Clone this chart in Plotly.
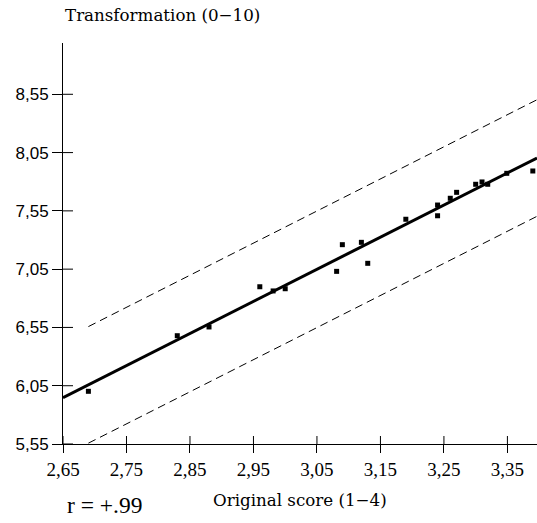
import plotly.graph_objects as go

# Original scores (1-4 scale) and their transformed values (0-10 scale)
orig_score = [2.690, 2.830, 2.880, 2.960, 2.981, 3.000, 3.081, 3.090, 3.120, 3.130,
              3.190, 3.240, 3.240, 3.260, 3.270, 3.300, 3.310, 3.319, 3.349, 3.390]
transformed = [6.002, 6.479, 6.554, 6.899, 6.863, 6.882, 7.031, 7.260, 7.280, 7.100,
               7.478, 7.600, 7.508, 7.658, 7.709, 7.778, 7.798, 7.778, 7.872, 7.892]

# Regression line and the +/- band around it
fit_intercept = -1.351
fit_slope = 2.754
band_half_width = 0.5

x_ticks = [2.65, 2.75, 2.85, 2.95, 3.05, 3.15, 3.25, 3.35]
x_ticklabels = ["2,65", "2,75", "2,85", "2,95", "3,05", "3,15", "3,25", "3,35"]
y_ticks = [5.55, 6.05, 6.55, 7.05, 7.55, 8.05, 8.55]
y_ticklabels = ["5,55", "6,05", "6,55", "7,05", "7,55", "8,05", "8,55"]

x_range = [2.65, 3.3966]
y_range = [5.55, 8.99]


def fit(x):
    return fit_intercept + fit_slope * x


fig = go.Figure()

# Dashed band lines
band_x = [min(orig_score), x_range[1]]
for sign in (1, -1):
    fig.add_trace(go.Scatter(
        x=band_x, y=[fit(v) + sign * band_half_width for v in band_x],
        mode="lines", line=dict(color="black", width=1, dash="8px,5px"),
        hoverinfo="skip", showlegend=False))

# Regression line
fig.add_trace(go.Scatter(
    x=x_range, y=[fit(v) for v in x_range],
    mode="lines", line=dict(color="black", width=3),
    hoverinfo="skip", showlegend=False))

# Observations
fig.add_trace(go.Scatter(
    x=orig_score, y=transformed, mode="markers",
    marker=dict(symbol="square", size=5, color="black", line=dict(width=0)),
    showlegend=False))

# Inner halves of the tick marks so that ticks cross the axes
shapes = []
for v in y_ticks:
    shapes.append(dict(type="line", xref="x", yref="y", xsizemode="pixel",
                       xanchor=x_range[0], x0=0, x1=10, y0=v, y1=v,
                       line=dict(color="black", width=1)))
for v in x_ticks:
    shapes.append(dict(type="line", xref="x", yref="y", ysizemode="pixel",
                       yanchor=y_range[0], y0=0, y1=8, x0=v, x1=v,
                       line=dict(color="black", width=1)))

title_font = dict(family="DejaVu Serif", size=16.7, color="black")

fig.update_layout(
    width=537, height=523,
    margin=dict(l=63, r=0, t=43, b=79),
    paper_bgcolor="white", plot_bgcolor="white",
    shapes=shapes,
    xaxis=dict(range=x_range, showgrid=False, zeroline=False,
               showline=True, linecolor="black", linewidth=1,
               ticks="outside", ticklen=8, tickwidth=1, tickcolor="black",
               tickvals=x_ticks, ticktext=x_ticklabels,
               tickfont=dict(family="Liberation Serif", size=19, color="black")),
    yaxis=dict(range=y_range, showgrid=False, zeroline=False,
               showline=True, linecolor="black", linewidth=1,
               ticks="outside", ticklen=10, tickwidth=1, tickcolor="black",
               tickvals=y_ticks, ticktext=y_ticklabels,
               tickfont=dict(family="Liberation Sans", size=17, color="black")),
    annotations=[
        dict(text="Transformation (0−10)", xref="paper", yref="paper",
             x=0, y=1.0698, xanchor="left", yanchor="middle", showarrow=False,
             font=title_font),
        dict(text="Original score (1−4)", xref="paper", yref="paper",
             x=0.4994, y=-0.139, xanchor="center", yanchor="middle", showarrow=False,
             font=title_font),
        dict(text="r = +.99", xref="paper", yref="paper",
             x=0.004, y=-0.152, xanchor="left", yanchor="middle", showarrow=False,
             font=dict(family="Liberation Serif", size=23.5, color="black")),
    ],
)

fig.write_html("out.html")
